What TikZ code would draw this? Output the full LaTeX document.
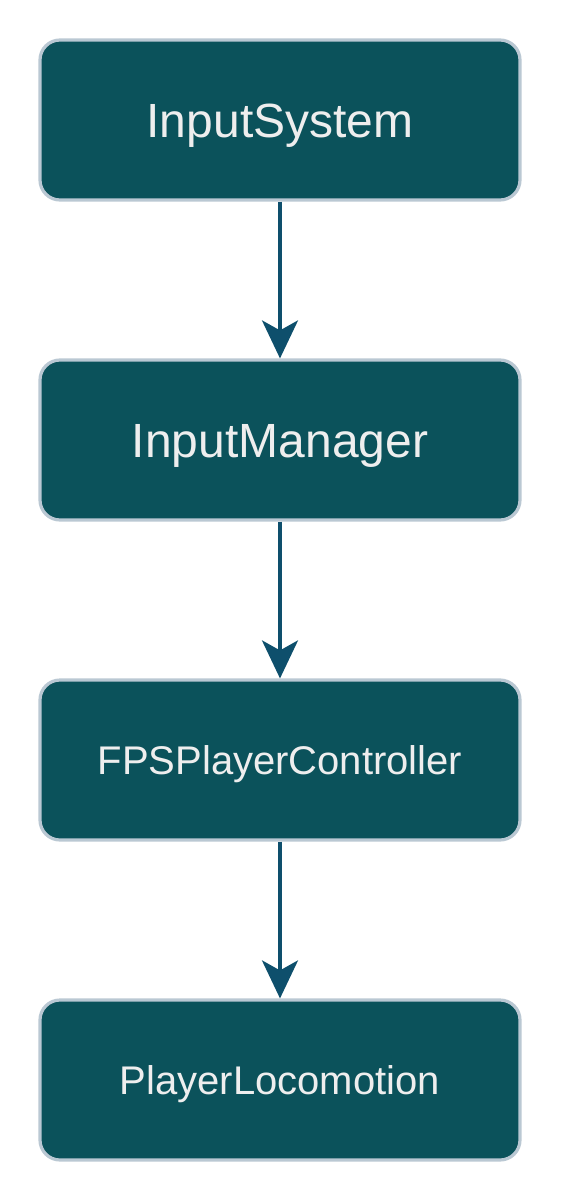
\documentclass[tikz,border=0pt]{standalone}
\usepackage{fontspec}
\setmainfont{Liberation Sans}
\usetikzlibrary{arrows.meta}
\definecolor{boxfill}{HTML}{0B525B}
\definecolor{boxline}{HTML}{BAC8D3}
\definecolor{arrowc}{HTML}{0E4F6C}
\definecolor{txt}{HTML}{EEEEEE}
\begin{document}
\begin{tikzpicture}[x=1pt,y=-1pt,
  blk/.style={draw=boxline, fill=boxfill, line width=3.2pt, rounded corners=20pt,
    minimum width=480pt, minimum height=160pt, inner sep=0pt, text=txt, anchor=center,
    text depth=0pt},
  big/.style={font=\fontsize{48}{48}\selectfont, text height=35pt},
  small/.style={font=\fontsize{40}{40}\selectfont, text height=29pt},
  conn/.style={draw=arrowc, line width=3.2pt, -{Stealth[length=38pt, width=36pt, inset=10pt]}}]
\useasboundingbox (0,0) rectangle (564,1204);
\node[blk, big] (a) at (280,120) {InputSystem};
\node[blk, big] (b) at (280,440) {InputManager};
\node[blk, small] (c) at (280,760) {FPSPlayerController};
\node[blk, small] (d) at (280,1080) {PlayerLocomotion};
\draw[conn] (a.south) -- (b.north);
\draw[conn] (b.south) -- (c.north);
\draw[conn] (c.south) -- (d.north);
\end{tikzpicture}
\end{document}
